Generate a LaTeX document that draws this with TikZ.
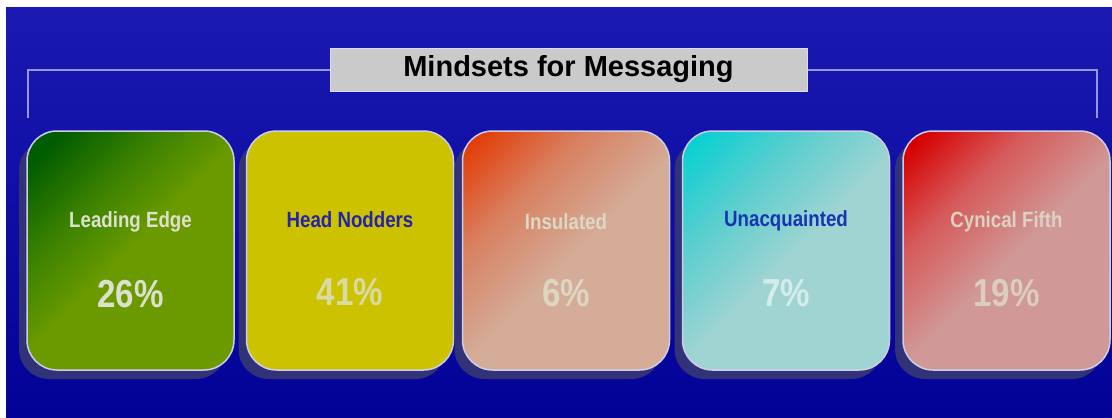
\documentclass[tikz,border=0pt]{standalone}
\usepackage{graphicx}
\usepackage{fontspec}
\setmainfont{Liberation Sans}
\newcommand{\narr}[1]{\scalebox{0.85}[1]{\bfseries #1}}
\usetikzlibrary{shadows}
\definecolor{bgtop}{RGB}{26,26,178}
\definecolor{bgbot}{RGB}{2,2,150}
\definecolor{bracketc}{RGB}{150,150,228}
\definecolor{titlefill}{RGB}{202,202,202}
\definecolor{titleline}{RGB}{220,220,245}
\definecolor{boxline}{RGB}{205,205,232}
\definecolor{shadowc}{RGB}{50,50,120}
\definecolor{gdark}{RGB}{0,92,0}
\definecolor{gmid}{RGB}{60,130,0}
\definecolor{glight}{RGB}{106,154,0}
\definecolor{ylw}{RGB}{204,194,0}
\definecolor{idark}{RGB}{226,62,10}
\definecolor{imid}{RGB}{216,128,96}
\definecolor{ilight}{RGB}{212,172,152}
\definecolor{udark}{RGB}{10,208,210}
\definecolor{umid}{RGB}{90,206,206}
\definecolor{ulight}{RGB}{160,212,210}
\definecolor{cdark}{RGB}{214,0,0}
\definecolor{cmid}{RGB}{214,90,90}
\definecolor{clight}{RGB}{208,152,150}
\definecolor{txtlight}{RGB}{222,224,206}
\definecolor{txtblue}{RGB}{36,36,170}
\definecolor{txtblue2}{RGB}{24,52,176}
\pgfdeclarehorizontalshading{shG}{100bp}{color(0bp)=(gdark); color(20bp)=(gdark); color(36bp)=(gmid); color(50bp)=(glight); color(100bp)=(glight)}
\pgfdeclarehorizontalshading{shI}{100bp}{color(0bp)=(idark); color(18bp)=(idark); color(34bp)=(imid); color(52bp)=(ilight); color(100bp)=(ilight)}
\pgfdeclarehorizontalshading{shU}{100bp}{color(0bp)=(udark); color(18bp)=(udark); color(34bp)=(umid); color(52bp)=(ulight); color(100bp)=(ulight)}
\pgfdeclarehorizontalshading{shC}{100bp}{color(0bp)=(cdark); color(18bp)=(cdark); color(34bp)=(cmid); color(52bp)=(clight); color(100bp)=(clight)}
\tikzset{
  card/.style={draw=boxline, line width=1.5pt, rounded corners=30pt,
    minimum width=207pt, minimum height=239pt, inner sep=0pt,
    general shadow={fill=shadowc, shadow xshift=-8pt, shadow yshift=-9pt}},
  lbl/.style={font=\fontsize{22}{24}\selectfont, inner sep=0pt},
  pct/.style={font=\fontsize{39}{42}\selectfont, inner sep=0pt},
  bracket/.style={draw=bracketc, line width=2pt},
}
\begin{document}
\begin{tikzpicture}[x=1pt,y=-1pt]
\useasboundingbox (0,0) rectangle (1112,418);
\fill[white] (0,0) rectangle (1112,418);
\shade[top color=bgtop, bottom color=bgbot] (6,7) rectangle (1112,418);
% title and bracket
\node[fill=titlefill, draw=titleline, line width=1pt, minimum width=477pt, minimum height=43pt, inner sep=0pt,
  font=\bfseries\fontsize{29}{32}\selectfont] (title) at (568.5,69.5) {Mindsets for Messaging};
\coordinate (bl) at (28,118);
\coordinate (br) at (1097,118);
\draw[bracket] (bl) |- (title.west);
\draw[bracket] (title.east) -| (br);
% cards
\node[card, shading=shG, shading angle=-45] (c1) at (130.5,250.5) {};
\node[card, fill=ylw] (c2) at (350,250.5) {};
\node[card, shading=shI, shading angle=-45] (c3) at (566,250.5) {};
\node[card, shading=shU, shading angle=-45] (c4) at (786,250.5) {};
\node[card, shading=shC, shading angle=-45] (c5) at (1006.5,250.5) {};
% labels
\node[lbl, text=txtlight] (l1) at (130.5,222) {\narr{Leading Edge}};
\node[pct, text=txtlight] (p1) at (130.5,294) {\narr{26\%}};
\node[lbl, text=txtblue] (l2) at (350,220) {\narr{Head Nodders}};
\node[pct, text=txtlight!80!ylw] (p2) at (350,292) {\narr{41\%}};
\node[lbl, text=txtlight!85!ilight] (l3) at (566,222) {\narr{Insulated}};
\node[pct, text=txtlight!80!ilight] (p3) at (566,293) {\narr{6\%}};
\node[lbl, text=txtblue2] (l4) at (786,221) {\narr{Unacquainted}};
\node[pct, text=white!55!ulight] (p4) at (786,293) {\narr{7\%}};
\node[lbl, text=txtlight!80!clight] (l5) at (1006.5,222) {\narr{Cynical Fifth}};
\node[pct, text=txtlight!75!clight] (p5) at (1006.5,293) {\narr{19\%}};
\end{tikzpicture}
\end{document}
